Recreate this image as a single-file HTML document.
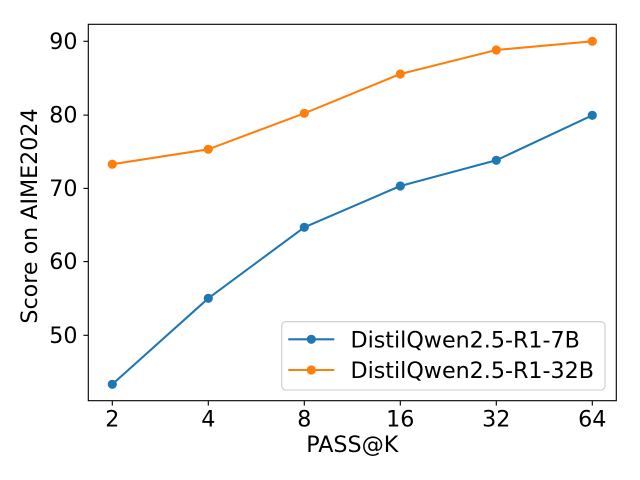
<!DOCTYPE html>
<html><head><meta charset="utf-8"><style>
html,body{margin:0;padding:0;background:#fff;}
svg{display:block;}
text{font-family:"DejaVu Sans","Liberation Sans",sans-serif;font-size:22.2px;fill:#000;}
</style></head><body>
<svg width="640" height="480" viewBox="0 0 640 480" xmlns="http://www.w3.org/2000/svg">
<rect x="0" y="0" width="640" height="480" fill="#fff"/>
<!-- lines -->
<polyline fill="none" stroke="#1f77b4" stroke-width="2.08" stroke-linejoin="round" points="112.3,384.3 208.3,298.3 304.3,227.3 400.3,186 496.3,160.3 592.3,115.3"/>
<g fill="#1f77b4">
<circle cx="112.3" cy="384.3" r="4.6"/><circle cx="208.3" cy="298.3" r="4.6"/><circle cx="304.3" cy="227.3" r="4.6"/><circle cx="400.3" cy="186" r="4.6"/><circle cx="496.3" cy="160.3" r="4.6"/><circle cx="592.3" cy="115.3" r="4.6"/>
</g>
<polyline fill="none" stroke="#ff7f0e" stroke-width="2.08" stroke-linejoin="round" points="112.3,164.2 208.3,149.3 304.3,113.3 400.3,74 496.3,50 592.3,41.3"/>
<g fill="#ff7f0e">
<circle cx="112.3" cy="164.2" r="4.6"/><circle cx="208.3" cy="149.3" r="4.6"/><circle cx="304.3" cy="113.3" r="4.6"/><circle cx="400.3" cy="74" r="4.6"/><circle cx="496.3" cy="50" r="4.6"/><circle cx="592.3" cy="41.3" r="4.6"/>
</g>
<!-- spines -->
<rect x="88.3" y="24.3" width="528" height="376.4" fill="none" stroke="#000" stroke-width="1.11"/>
<!-- ticks -->
<g stroke="#000" stroke-width="1.11">
<line x1="112.3" y1="400.7" x2="112.3" y2="405.6"/>
<line x1="208.3" y1="400.7" x2="208.3" y2="405.6"/>
<line x1="304.3" y1="400.7" x2="304.3" y2="405.6"/>
<line x1="400.3" y1="400.7" x2="400.3" y2="405.6"/>
<line x1="496.3" y1="400.7" x2="496.3" y2="405.6"/>
<line x1="592.3" y1="400.7" x2="592.3" y2="405.6"/>
<line x1="83.4" y1="41.3" x2="88.3" y2="41.3"/>
<line x1="83.4" y1="115.1" x2="88.3" y2="115.1"/>
<line x1="83.4" y1="188.4" x2="88.3" y2="188.4"/>
<line x1="83.4" y1="261.6" x2="88.3" y2="261.6"/>
<line x1="83.4" y1="335.3" x2="88.3" y2="335.3"/>
</g>
<g text-anchor="middle">
<text x="112.3" y="426.5">2</text>
<text x="208.3" y="426.5">4</text>
<text x="304.3" y="426.5">8</text>
<text x="400.3" y="426.5">16</text>
<text x="496.3" y="426.5">32</text>
<text x="592.3" y="426.5">64</text>
</g>
<g text-anchor="end">
<text x="77.5" y="48.8">90</text>
<text x="77.5" y="122.6">80</text>
<text x="77.5" y="195.9">70</text>
<text x="77.5" y="269.1">60</text>
<text x="77.5" y="342.8">50</text>
</g>
<text x="352.3" y="452" text-anchor="middle">PASS@K</text>
<text transform="translate(37,216) rotate(-90)" text-anchor="middle">Score on AIME2024</text>
<!-- legend -->
<rect x="281.7" y="321.7" width="323.3" height="68.3" rx="4" ry="4" fill="#fff" fill-opacity="0.8" stroke="#cccccc" stroke-width="1.11"/>
<line x1="288.3" y1="339.3" x2="334.3" y2="339.3" stroke="#1f77b4" stroke-width="2.08"/>
<circle cx="311.3" cy="339.3" r="4.6" fill="#1f77b4"/>
<line x1="288.3" y1="370" x2="334.3" y2="370" stroke="#ff7f0e" stroke-width="2.08"/>
<circle cx="311.3" cy="370" r="4.6" fill="#ff7f0e"/>
<text x="350.5" y="347.3">DistilQwen2.5-R1-7B</text>
<text x="350.5" y="378">DistilQwen2.5-R1-32B</text>
</svg>
</body></html>
